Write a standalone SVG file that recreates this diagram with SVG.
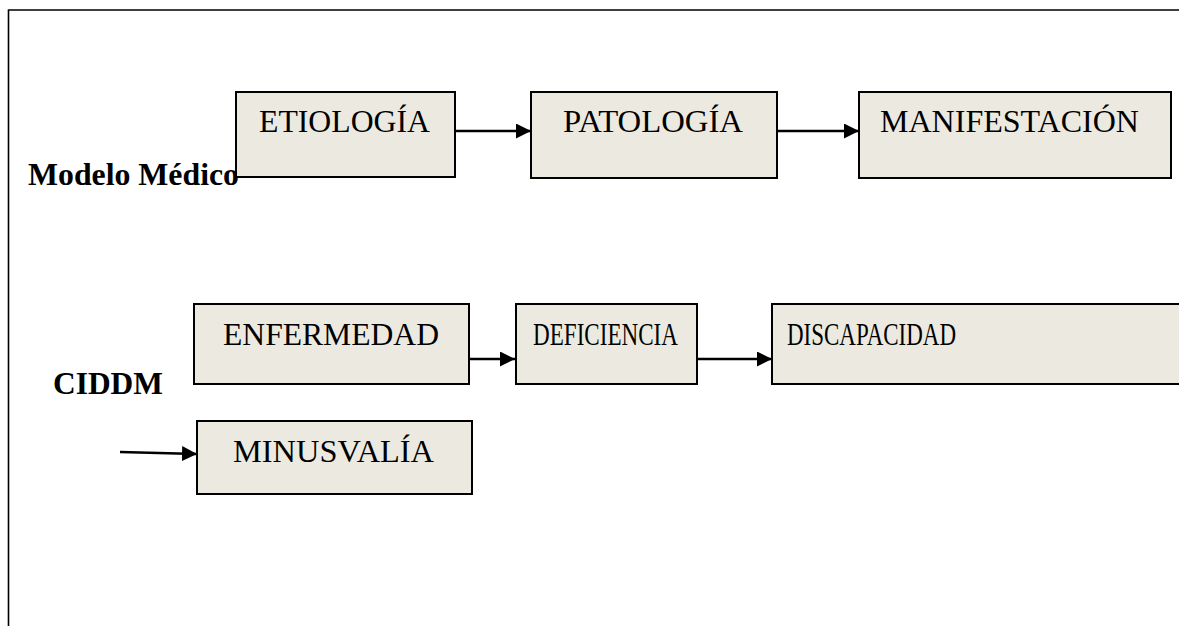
<svg xmlns="http://www.w3.org/2000/svg" width="1179" height="626" viewBox="0 0 1179 626">
<style>
.box{fill:#ECEAE0;stroke:#000;stroke-width:2}
.lbl{font-size:31px;fill:#000}
.hdr{font-size:31px;font-weight:bold;fill:#000}
.con{stroke:#000;stroke-width:2.5;fill:none}
</style>
<defs>
<marker id="ah" markerUnits="userSpaceOnUse" markerWidth="16" markerHeight="16" refX="15" refY="7.5" orient="auto">
<path d="M0,0 L15,7.5 L0,15 Z" fill="#000"/>
</marker>
</defs>
<rect width="1179" height="626" fill="#fff"/>
<g id="frame">
<path d="M8.5,626 V10 H1179" fill="none" stroke="#000" stroke-width="1.6"/>
</g>
<g id="connectors">
<line class="con" x1="456" y1="131" x2="531" y2="131" marker-end="url(#ah)"/>
<line class="con" x1="778" y1="131" x2="859" y2="131" marker-end="url(#ah)"/>
<line class="con" x1="470" y1="359" x2="515" y2="359" marker-end="url(#ah)"/>
<line class="con" x1="697" y1="359" x2="772" y2="359" marker-end="url(#ah)"/>
<line class="con" x1="120" y1="452" x2="197" y2="454" marker-end="url(#ah)"/>
</g>
<g font-family="Liberation Serif, DejaVu Serif, serif">
<g id="label-modelo">
<text class="hdr" x="28" y="185" textLength="211" lengthAdjust="spacingAndGlyphs">Modelo Médico</text>
</g>
<g id="label-ciddm">
<text class="hdr" x="53" y="394" textLength="110" lengthAdjust="spacingAndGlyphs">CIDDM</text>
</g>
<g id="node-etiologia">
<rect class="box" x="236" y="92" width="219" height="85"/>
<text class="lbl" x="259" y="132" textLength="171" lengthAdjust="spacingAndGlyphs">ETIOLOGÍA</text>
</g>
<g id="node-patologia">
<rect class="box" x="531" y="92" width="246" height="86"/>
<text class="lbl" x="563" y="132" textLength="180" lengthAdjust="spacingAndGlyphs">PATOLOGÍA</text>
</g>
<g id="node-manifestacion">
<rect class="box" x="859" y="92" width="312" height="86"/>
<text class="lbl" x="880" y="132" textLength="259" lengthAdjust="spacingAndGlyphs">MANIFESTACIÓN</text>
</g>
<g id="node-enfermedad">
<rect class="box" x="194" y="304" width="275" height="80"/>
<text class="lbl" x="223" y="345" textLength="216" lengthAdjust="spacingAndGlyphs">ENFERMEDAD</text>
</g>
<g id="node-deficiencia">
<rect class="box" x="516" y="304" width="181" height="80"/>
<text class="lbl" x="533" y="345" textLength="145" lengthAdjust="spacingAndGlyphs">DEFICIENCIA</text>
</g>
<g id="node-discapacidad">
<rect class="box" x="772" y="304" width="412" height="80"/>
<text class="lbl" x="787" y="345" textLength="169" lengthAdjust="spacingAndGlyphs">DISCAPACIDAD</text>
</g>
<g id="node-minusvalia">
<rect class="box" x="197" y="421" width="275" height="73"/>
<text class="lbl" x="233" y="462" textLength="201" lengthAdjust="spacingAndGlyphs">MINUSVALÍA</text>
</g>
</g>
</svg>
